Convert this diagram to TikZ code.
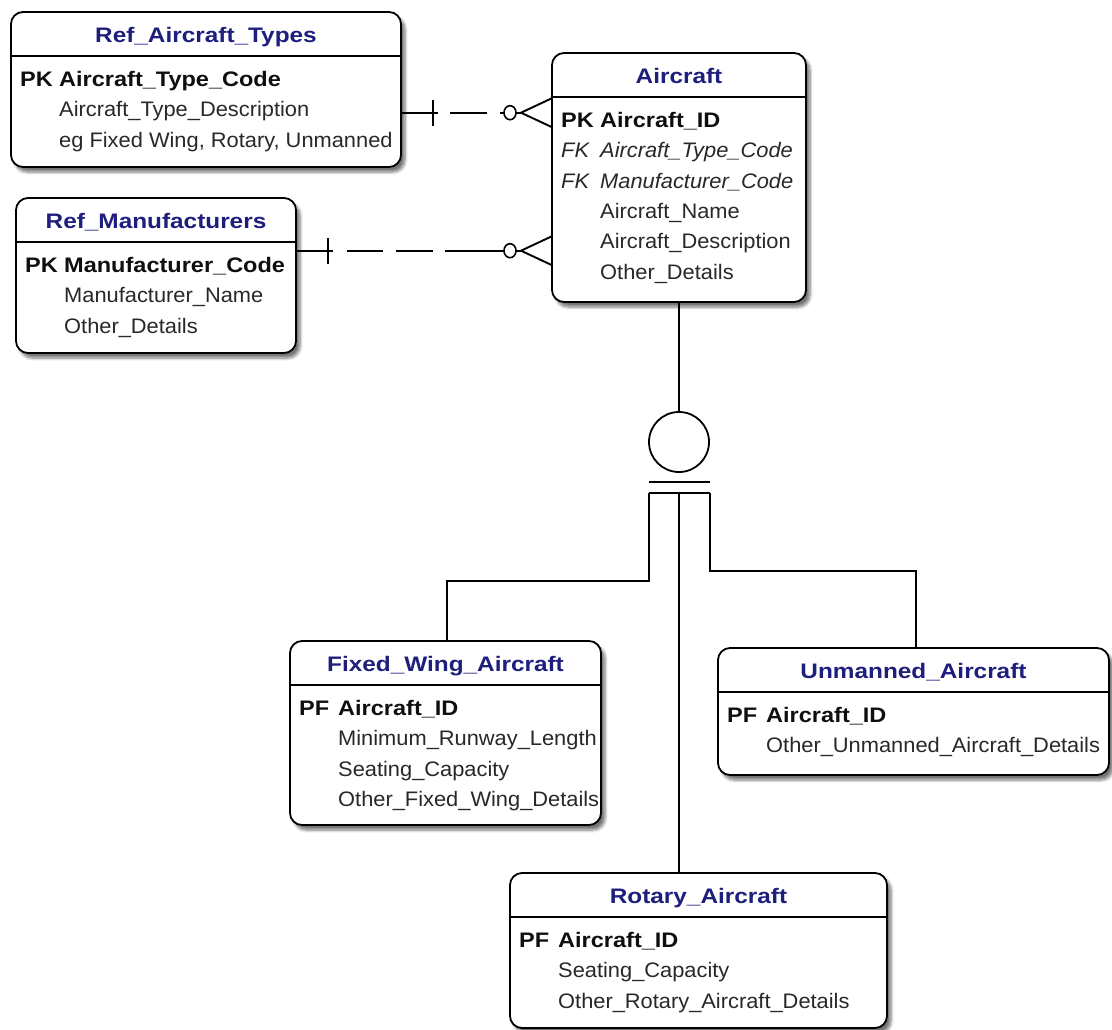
\documentclass[tikz,border=0pt]{standalone}
\usepackage{fontspec}
\setmainfont{Liberation Sans}
\newfontfamily\attrfont[FakeStretch=1.04]{Liberation Sans}
\newfontfamily\keyfont[FakeStretch=1.12]{Liberation Sans}
\newfontfamily\headfont[FakeStretch=1.16]{Liberation Sans}
\usetikzlibrary{shadows.blur}

\definecolor{headblue}{RGB}{30,30,125}
\definecolor{attrgray}{RGB}{40,40,40}
\definecolor{keyblack}{RGB}{15,15,15}

\tikzset{
  entity/.style={draw=black, line width=1.8pt, rounded corners=12pt, fill=white,
    outer sep=0pt, inner sep=0pt, anchor=north west,
    blur shadow={shadow xshift=4pt, shadow yshift=-5pt, shadow blur radius=3pt,
      shadow blur steps=6, shadow opacity=55}},
  divline/.style={line width=1.8pt},
  relline/.style={line width=1.9pt},
  headtext/.style={font=\headfont\bfseries\fontsize{21}{21}\selectfont, text=headblue,
    anchor=base, inner sep=0pt},
  pktext/.style={font=\keyfont\bfseries\fontsize{21}{21}\selectfont, text=keyblack,
    anchor=base west, inner sep=0pt},
  attrtext/.style={font=\attrfont\fontsize{21}{21}\selectfont, text=attrgray,
    anchor=base west, inner sep=0pt},
  fktext/.style={font=\attrfont\itshape\fontsize{21}{21}\selectfont, text=attrgray,
    anchor=base west, inner sep=0pt},
}

% one entity: name, left, top, width, height, title
\newcommand\erentity[6]{%
  \node[entity, minimum width=#4pt, minimum height=#5pt] (#1) at (#2,#3) {};
  \draw[divline] ([yshift=-44pt]#1.north west) -- ([yshift=-44pt]#1.north east);
  \node[headtext] (#1-t) at ([yshift=-30.5pt]#1.north) {#6};
}
% key column and attribute column of row #2 (counted from 0)
\newcommand\erkey[4]{%
  \node[#3] (#1-k#2) at ([xshift=9pt,yshift={-74.5pt-30.3pt*#2}]#1.north west) {#4};}
\newcommand\erfield[4]{%
  \node[#3] (#1-f#2) at ([xshift=48pt,yshift={-74.5pt-30.3pt*#2}]#1.north west) {#4};}

% relationship ends
\newcommand\onemark[1]{%
  \draw[relline] ([xshift=32pt,yshift=13pt]#1) -- ([xshift=32pt,yshift=-13pt]#1);}
\newcommand\zeromany[1]{%
  \draw[line width=1.6pt] ([xshift=-42pt]#1) ellipse (6pt and 7pt);
  \draw[relline] ([xshift=-36pt]#1) -- ([xshift=-31pt]#1);
  \draw[relline] ([yshift=14.5pt]#1) -- ([xshift=-31pt]#1) -- ([yshift=-14.5pt]#1);}

\begin{document}
\begin{tikzpicture}[x=1pt, y=-1pt]
\useasboundingbox (0,0) rectangle (1112,1030);

% ---------------- entities ----------------
\erentity{rat}{11}{12}{390}{155}{Ref\_Aircraft\_Types}
\erkey{rat}{0}{pktext}{PK}
\erfield{rat}{0}{pktext}{Aircraft\_Type\_Code}
\erfield{rat}{1}{attrtext}{Aircraft\_Type\_Description}
\erfield{rat}{2}{attrtext}{eg Fixed Wing, Rotary, Unmanned}

\erentity{ac}{552}{53}{254}{249}{Aircraft}
\erkey{ac}{0}{pktext}{PK}
\erfield{ac}{0}{pktext}{Aircraft\_ID}
\erkey{ac}{1}{fktext}{FK}
\erfield{ac}{1}{fktext}{Aircraft\_Type\_Code}
\erkey{ac}{2}{fktext}{FK}
\erfield{ac}{2}{fktext}{Manufacturer\_Code}
\erfield{ac}{3}{attrtext}{Aircraft\_Name}
\erfield{ac}{4}{attrtext}{Aircraft\_Description}
\erfield{ac}{5}{attrtext}{Other\_Details}

\erentity{rm}{16}{198}{280}{155}{Ref\_Manufacturers}
\erkey{rm}{0}{pktext}{PK}
\erfield{rm}{0}{pktext}{Manufacturer\_Code}
\erfield{rm}{1}{attrtext}{Manufacturer\_Name}
\erfield{rm}{2}{attrtext}{Other\_Details}

\erentity{fw}{290}{641}{311}{184}{Fixed\_Wing\_Aircraft}
\erkey{fw}{0}{pktext}{PF}
\erfield{fw}{0}{pktext}{Aircraft\_ID}
\erfield{fw}{1}{attrtext}{Minimum\_Runway\_Length}
\erfield{fw}{2}{attrtext}{Seating\_Capacity}
\erfield{fw}{3}{attrtext}{Other\_Fixed\_Wing\_Details}

\erentity{un}{718}{648}{391}{127}{Unmanned\_Aircraft}
\erkey{un}{0}{pktext}{PF}
\erfield{un}{0}{pktext}{Aircraft\_ID}
\erfield{un}{1}{attrtext}{Other\_Unmanned\_Aircraft\_Details}

\erentity{ro}{510}{873}{377}{155}{Rotary\_Aircraft}
\erkey{ro}{0}{pktext}{PF}
\erfield{ro}{0}{pktext}{Aircraft\_ID}
\erfield{ro}{1}{attrtext}{Seating\_Capacity}
\erfield{ro}{2}{attrtext}{Other\_Rotary\_Aircraft\_Details}

% ---------------- relationships ----------------
\coordinate (r1s) at ([yshift=-100.7pt]rat.north east);
\coordinate (r1e) at ([yshift=-59.7pt]ac.north west);
\draw[relline, dash pattern=on 37pt off 12pt on 37pt off 13pt on 60pt]
  (r1s) -- ([xshift=-48pt]r1e);
\onemark{r1s}
\zeromany{r1e}

\coordinate (r2s) at ([yshift=-52.7pt]rm.north east);
\coordinate (r2e) at ([yshift=-197.7pt]ac.north west);
\draw[relline, dash pattern=on 37pt off 14pt on 36pt off 13pt on 37pt off 12pt on 100pt]
  (r2s) -- ([xshift=-48pt]r2e);
\onemark{r2s}
\zeromany{r2e}

% ---------------- subtype cluster ----------------
\node[draw, circle, line width=1.8pt, minimum size=60pt, inner sep=0pt, outer sep=0pt]
  (cat) at (679,442) {};
\draw[relline] (ac.south) -- (cat.north);
\coordinate (bar1l) at (649,482);
\coordinate (bar1r) at (710,482);
\coordinate (bar2l) at (649,493);
\coordinate (bar2c) at (679,493);
\coordinate (bar2r) at (710,493);
\draw[relline] (bar1l) -- (bar1r);
\draw[relline] (bar2l) -- (bar2r);
\draw[relline] (bar2l) -- ++(0,88) -| ([xshift=157pt]fw.north west);
\draw[relline] (bar2c) -- ([xshift=169pt]ro.north west);
\draw[relline] (bar2r) -- ++(0,78) -| ([xshift=198pt]un.north west);
\end{tikzpicture}
\end{document}
